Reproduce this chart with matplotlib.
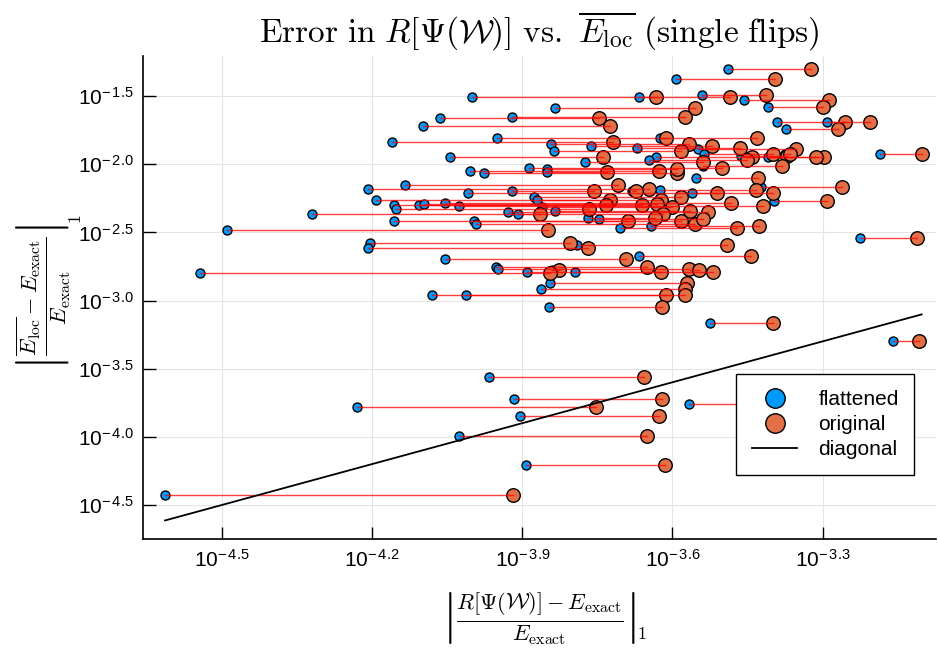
import numpy as np
import matplotlib
matplotlib.use("Agg")
import matplotlib.pyplot as plt
from matplotlib.lines import Line2D

plt.rcParams['mathtext.fontset'] = 'cm'
plt.rcParams['mathtext.rm'] = 'Liberation Sans'
plt.rcParams['mathtext.it'] = 'Liberation Sans:italic'
plt.rcParams['mathtext.bf'] = 'Liberation Sans:bold'
plt.rcParams['font.family'] = ['Liberation Sans', 'DejaVu Sans']

# log10 of relative error of R[Psi(W)] : flattened vs original, and log10 of E_loc error
flat_log = [-3.488, -3.592, -4.000, -3.666, -3.540, -3.458, -3.410, -3.834, -4.064, -3.920,
            -4.098, -3.392, -3.292, -3.374, -3.950, -3.624, -4.160, -3.842, -3.762, -3.670,
            -3.548, -3.836, -3.536, -3.186, -3.464, -3.410, -3.376, -3.452, -3.632, -4.044,
            -3.646, -3.774, -3.538, -3.886, -4.004, -3.976, -3.850, -3.850, -3.552, -3.424,
            -4.134, -4.208, -3.920, -3.624, -4.008, -3.560, -3.680, -3.876, -3.870, -4.192,
            -4.054, -3.398, -4.156, -4.106, -4.096, -4.026, -3.860, -4.152, -3.834, -3.928,
            -4.320, -3.908, -4.156, -3.996, -3.992, -3.768, -3.746, -4.490, -3.704, -3.642,
            -3.226, -4.204, -3.790, -4.208, -3.666, -4.054, -3.952, -3.948, -3.840, -3.564,
            -3.794, -3.890, -4.544, -3.844, -3.862, -4.080, -4.012, -3.846, -3.524, -3.160,
            -3.966, -3.916, -3.566, -4.230, -3.904, -4.026, -3.892, -4.614]
orig_log = [-3.324, -3.396, -3.484, -3.632, -3.414, -3.288, -3.300, -3.554, -3.746, -3.574,
            -3.724, -3.206, -3.256, -3.270, -3.612, -3.432, -3.718, -3.566, -3.520, -3.466,
            -3.354, -3.582, -3.400, -3.102, -3.372, -3.298, -3.366, -3.442, -3.314, -3.738,
            -3.452, -3.538, -3.382, -3.500, -3.626, -3.590, -3.590, -3.730, -3.430, -3.262,
            -3.708, -3.646, -3.756, -3.434, -3.510, -3.400, -3.672, -3.582, -3.622, -3.724,
            -3.482, -3.292, -3.732, -3.660, -3.630, -3.420, -3.600, -3.766, -3.564, -3.528,
            -3.618, -3.864, -3.582, -3.688, -3.554, -3.634, -3.538, -3.848, -3.472, -3.428,
            -3.112, -3.804, -3.490, -3.768, -3.444, -3.692, -3.650, -3.566, -3.826, -3.546,
            -3.622, -3.518, -3.844, -3.570, -3.574, -3.612, -3.574, -3.620, -3.400, -3.108,
            -3.656, -3.620, -3.364, -3.752, -3.626, -3.650, -3.614, -3.918]
eloc_log = [-1.301, -1.375, -1.507, -1.507, -1.493, -1.529, -1.581, -1.588, -1.662, -1.654,
            -1.721, -1.691, -1.691, -1.743, -1.809, -1.809, -1.838, -1.853, -1.868, -1.882,
            -1.890, -1.904, -1.926, -1.926, -1.941, -1.949, -1.926, -1.949, -1.949, -1.949,
            -1.971, -1.985, -2.015, -2.029, -2.051, -2.066, -2.037, -2.059, -2.103, -2.169,
            -2.154, -2.184, -2.199, -2.191, -2.213, -2.213, -2.199, -2.243, -2.265, -2.265,
            -2.287, -2.272, -2.301, -2.301, -2.294, -2.309, -2.316, -2.331, -2.346, -2.353,
            -2.368, -2.368, -2.419, -2.419, -2.441, -2.397, -2.404, -2.485, -2.471, -2.456,
            -2.544, -2.581, -2.596, -2.618, -2.676, -2.699, -2.757, -2.772, -2.779, -2.779,
            -2.794, -2.794, -2.801, -2.875, -2.919, -2.963, -2.963, -3.044, -3.162, -3.294,
            -3.559, -3.721, -3.757, -3.779, -3.846, -3.993, -4.206, -4.426]

xtick_exp = [-4.5, -4.2, -3.9, -3.6, -3.3]
ytick_exp = [-4.5, -4.0, -3.5, -3.0, -2.5, -2.0, -1.5]

flat = 10 ** np.array(flat_log)
orig = 10 ** np.array(orig_log)
eloc = 10 ** np.array(eloc_log)

blue = '#009AFA'
orange = '#E26F46'

fig = plt.figure(figsize=(9.38, 6.53), dpi=100)
ax = fig.add_axes([0.1525, 0.1746, 0.845, 0.7396])

ax.scatter(flat, eloc, s=42, color=blue, edgecolors='black', linewidths=1.0, zorder=3)
ax.scatter(orig, eloc, s=95, color=orange, edgecolors='black', linewidths=1.0, zorder=3)
for f, o, e in zip(flat, orig, eloc):
    ax.plot([f, o], [e, e], color='red', lw=1.0, alpha=0.75, zorder=4)

# diagonal y = x over the data range
lo = min(flat.min(), orig.min())
hi = max(flat.max(), orig.max())
ax.plot([lo, hi], [lo, hi], color='black', lw=1.3, zorder=5)

ax.set_xscale('log')
ax.set_yscale('log')
ax.set_xlim(10 ** -4.658, 10 ** -3.074)
ax.set_ylim(10 ** -4.75, 10 ** -1.206)

ax.set_xticks([10 ** v for v in xtick_exp])
ax.set_xticklabels([r'$\mathrm{10^{-\,%s}}$' % abs(v) for v in xtick_exp])
ax.set_yticks([10 ** v for v in ytick_exp])
ax.set_yticklabels([r'$\mathrm{10^{-\,%s}}$' % abs(v) for v in ytick_exp])
ax.minorticks_off()
ax.tick_params(direction='in', length=9, width=1, labelsize=15, pad=7)
for lab in ax.get_xticklabels() + ax.get_yticklabels():
    lab.set_math_fontfamily('custom')

ax.grid(True, color='#e4e4e4', lw=0.8)
ax.set_axisbelow(True)
for side in ['top', 'right']:
    ax.spines[side].set_visible(False)
for side in ['left', 'bottom']:
    ax.spines[side].set_linewidth(1.2)

ax.set_title(r'$\mathrm{Error\ in\ }R[\Psi(\mathcal{W})]\mathrm{\ vs.\ }\overline{E_{\mathrm{loc}}}\mathrm{\ (single\ flips)}$',
             fontsize=24, pad=10)
ax.set_xlabel(r'$\left|\frac{R[\Psi(\mathcal{W})] - E_{\mathrm{exact}}}{E_{\mathrm{exact}}}\right|$',
              fontsize=23, labelpad=14)
ax.set_ylabel(r'$\left|\frac{\overline{E_{\mathrm{loc}}} - E_{\mathrm{exact}}}{E_{\mathrm{exact}}}\right|$',
              fontsize=23, labelpad=4)

handles = [
    Line2D([], [], marker='o', ls='none', markersize=14, markerfacecolor=blue,
           markeredgecolor='black', markeredgewidth=1.0),
    Line2D([], [], marker='o', ls='none', markersize=14, markerfacecolor=orange,
           markeredgecolor='black', markeredgewidth=1.0),
    Line2D([], [], color='black', lw=1.3),
]
leg = ax.legend(handles, ['flattened', 'original', 'diagonal'], loc='lower right',
                bbox_to_anchor=(0.973, 0.1325), borderaxespad=0, fontsize=15,
                frameon=True, fancybox=False, edgecolor='black', framealpha=1,
                handlelength=2.2, labelspacing=0.3, borderpad=0.75, handletextpad=1.0)
leg.get_frame().set_linewidth(1.0)

# the "_1" subscripts after the closing bars
fig.canvas.draw()
W, H = fig.get_size_inches() * fig.dpi
bx = ax.xaxis.label.get_window_extent()
fig.text((bx.x1 + 1) / W, (bx.y0 + 4) / H, r'$1$', fontsize=13, ha='left', va='bottom')
by = ax.yaxis.label.get_window_extent()
fig.text((by.x1 - 4) / W, (by.y1 + 1) / H, r'$1$', fontsize=13, rotation=90,
         ha='left', va='bottom')

fig.savefig('out.png', dpi=100)
